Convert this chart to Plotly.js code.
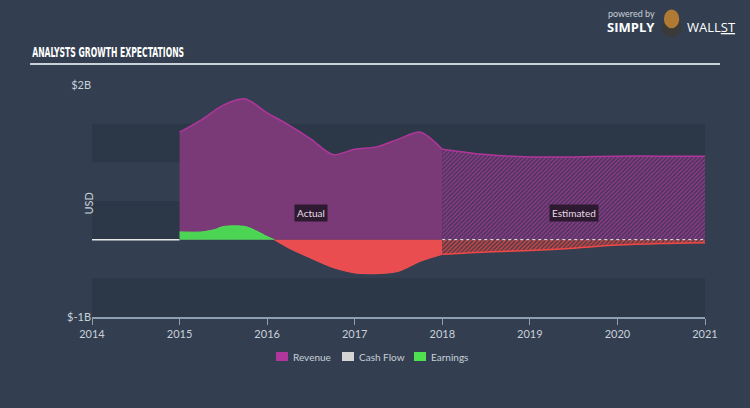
<!DOCTYPE html>
<html>
<head>
<meta charset="utf-8">
<script src="https://cdn.plot.ly/plotly-3.0.1.min.js"></script>
<style>
html,body{margin:0;padding:0;background:#333f50;}
#chart{width:750px;height:408px;}
</style>
</head>
<body>
<div id="chart"></div>
<script>
// ---- data (values in $B) ----
const revActualX = [2015, 2015.25, 2015.5, 2015.75, 2016, 2016.25, 2016.5, 2016.75, 2017, 2017.25, 2017.5, 2017.75, 2018];
const revActualY = [1.39, 1.55, 1.74, 1.82, 1.64, 1.48, 1.30, 1.10, 1.17, 1.20, 1.30, 1.39, 1.17];
const revEstX = [2018, 2018.5, 2019, 2019.5, 2020, 2020.5, 2021];
const revEstY = [1.17, 1.10, 1.07, 1.07, 1.08, 1.08, 1.08];

const earnActualX = [2015, 2015.25, 2015.4, 2015.5, 2015.75, 2015.9, 2016, 2016.08, 2016.25, 2016.5, 2016.75, 2017, 2017.25, 2017.5, 2017.75, 2018];
const earnActualY = [0.10, 0.10, 0.13, 0.17, 0.17, 0.10, 0.04, 0, -0.11, -0.24, -0.36, -0.43, -0.44, -0.41, -0.28, -0.19];
const earnEstX = [2018, 2018.5, 2019, 2019.5, 2020, 2020.5, 2021];
const earnEstY = [-0.19, -0.16, -0.14, -0.11, -0.07, -0.05, -0.04];

const cashPreX = [2014, 2015];
const cashPreY = [0, 0];
const cashEstX = [2018, 2021];
const cashEstY = [0, 0];

const xTicks = [2014, 2015, 2016, 2017, 2018, 2019, 2020, 2021];
const yTickVals = [-1, 2];
const yTickText = ['$-1B', '$2B'];
const bands = [[1, 1.5], [0, 0.5], [-1, -0.5]];
const legendNames = ['Revenue', 'Cash Flow', 'Earnings'];
const legendColors = ['#b0369b', '#d4d4d4', '#4fe04f'];

// split actual earnings by sign
const zi = earnActualY.indexOf(0);
const earnPosX = earnActualX.slice(0, zi + 1), earnPosY = earnActualY.slice(0, zi + 1);
const earnNegX = earnActualX.slice(zi), earnNegY = earnActualY.slice(zi);

const FONT = 'Lato, "Open Sans", sans-serif';

const traces = [
  {x: cashPreX, y: cashPreY, mode: 'lines', line: {color: '#e8e8e8', width: 1.5}, hoverinfo: 'skip'},
  {x: revActualX, y: revActualY, mode: 'lines', line: {color: '#b0369b', width: 1.5, shape: 'spline', smoothing: 0.8},
   fill: 'tozeroy', fillcolor: '#7a3a78', hoverinfo: 'skip'},
  {x: revEstX, y: revEstY, mode: 'lines', line: {color: '#b0369b', width: 1.5, shape: 'spline', smoothing: 0.8},
   fill: 'tozeroy', fillpattern: {shape: '/', fgcolor: '#8f3a88', bgcolor: '#45365a', size: 3, solidity: 0.5},
   hoverinfo: 'skip'},
  {x: earnPosX, y: earnPosY, mode: 'lines', line: {color: '#4fe04f', width: 1, shape: 'spline', smoothing: 0.8},
   fill: 'tozeroy', fillcolor: '#4cd454', hoverinfo: 'skip'},
  {x: earnNegX, y: earnNegY, mode: 'lines', line: {color: '#f25050', width: 1, shape: 'spline', smoothing: 0.8},
   fill: 'tozeroy', fillcolor: '#ea4d4f', hoverinfo: 'skip'},
  {x: earnEstX, y: earnEstY, mode: 'lines', line: {color: '#f04848', width: 1.5, shape: 'spline', smoothing: 0.8},
   fill: 'tozeroy', fillpattern: {shape: '/', fgcolor: '#c84646', bgcolor: '#4f3a48', size: 3, solidity: 0.5},
   hoverinfo: 'skip'},
  {x: cashEstX, y: cashEstY, mode: 'lines', line: {color: '#f0f0f0', width: 1, dash: 'dot'}, hoverinfo: 'skip'}
];

const shapes = bands.map(b => ({type: 'rect', xref: 'x', yref: 'y', x0: 2014, x1: 2021, y0: b[0], y1: b[1],
  fillcolor: '#2c3847', line: {width: 0}, layer: 'below'}));
shapes.push({type: 'line', xref: 'paper', yref: 'paper', x0: -0.101, x1: 1.0245, y0: 1.09, y1: 1.09,
  line: {color: '#c9d1da', width: 2}});
// logo mark
shapes.push({type: 'circle', xref: 'paper', yref: 'paper', x0: 0.929, x1: 0.962, y0: 1.207, y1: 1.29,
  fillcolor: '#3a3a3a', line: {width: 0}});
shapes.push({type: 'circle', xref: 'paper', yref: 'paper', x0: 0.933, x1: 0.958, y0: 1.245, y1: 1.325,
  fillcolor: '#b07a35', line: {width: 0}});

const annotations = [
  {xref: 'paper', yref: 'paper', x: -0.101, y: 1.142, xanchor: 'left', yanchor: 'middle', showarrow: false,
   text: '<b>ANALYSTS GROWTH EXPECTATIONS</b>',
   font: {family: '"DejaVu Sans Condensed", sans-serif', size: 14, color: '#ffffff'}},
  {xref: 'x', yref: 'y', x: 2016.5, y: 0.34, showarrow: false, text: 'Actual',
   bgcolor: '#2e1a30', borderpad: 2, font: {family: FONT, size: 10, color: '#e6dde6'}},
  {xref: 'x', yref: 'y', x: 2019.5, y: 0.34, showarrow: false, text: 'Estimated',
   bgcolor: '#2e1a30', borderpad: 2, font: {family: FONT, size: 10, color: '#e6dde6'}},
  {xref: 'paper', yref: 'paper', x: -0.02, y: 0.49, showarrow: false, textangle: -90, text: 'USD',
   font: {family: FONT, size: 11, color: '#c8d0da'}},
  {xref: 'paper', yref: 'paper', x: 0.839, y: 1.31, xanchor: 'left', yanchor: 'middle', showarrow: false,
   text: 'powered by', font: {family: FONT, size: 9, color: '#c8d0da'}},
  {xref: 'paper', yref: 'paper', x: 0.837, y: 1.252, xanchor: 'left', yanchor: 'middle', showarrow: false,
   text: '<b>SIMPLY</b>', font: {family: '"Open Sans", sans-serif', size: 13, color: '#ffffff'}},
  {xref: 'paper', yref: 'paper', x: 0.968, y: 1.252, xanchor: 'left', yanchor: 'middle', showarrow: false,
   text: 'WALL<u>ST</u>', font: {family: '"Open Sans", sans-serif', size: 13, color: '#ffffff'}}
];

// manual legend (pixel positions converted to paper coords)
const plotL = 92, plotW = 613, plotB = 317, plotH = 232;
const px = v => (v - plotL) / plotW;
const py = v => (plotB - v) / plotH;
const legendSquareX = [276, 342, 414];
legendNames.forEach((n, i) => {
  const x0 = legendSquareX[i];
  shapes.push({type: 'rect', xref: 'paper', yref: 'paper', x0: px(x0), x1: px(x0 + 12), y0: py(361), y1: py(352),
    fillcolor: legendColors[i], line: {width: 0}});
  annotations.push({xref: 'paper', yref: 'paper', x: px(x0 + 15), y: py(356.5), xanchor: 'left', yanchor: 'middle',
    showarrow: false, text: n, font: {family: FONT, size: 10, color: '#c8d0da'}});
});

const layout = {
  width: 750, height: 408,
  paper_bgcolor: '#333f50', plot_bgcolor: 'rgba(0,0,0,0)',
  margin: {l: 92, r: 45, t: 85, b: 91},
  font: {family: FONT, color: '#c8d0da', size: 11},
  xaxis: {range: [2014, 2021], tickvals: xTicks, showgrid: false, zeroline: false,
    showline: true, linecolor: '#8e9fb2', linewidth: 1.5, ticks: 'outside', ticklen: 6, tickcolor: '#8e9fb2',
    tickfont: {family: FONT, size: 11, color: '#c8d0da'}, fixedrange: true},
  yaxis: {range: [-1, 2], tickvals: yTickVals, ticktext: yTickText, showgrid: false, zeroline: false,
    showline: false, ticks: '', tickfont: {family: FONT, size: 11, color: '#c8d0da'}, fixedrange: true},
  showlegend: false,
  shapes: shapes,
  annotations: annotations
};

Plotly.newPlot('chart', traces, layout, {staticPlot: true, displayModeBar: false}).then(gd => {
  // condense the headline horizontally to mimic the narrow display face
  gd.querySelectorAll('text.annotation-text').forEach(t => {
    if (t.textContent.indexOf('ANALYSTS') === 0) {
      t.style.transformBox = 'fill-box';
      t.style.transformOrigin = 'left center';
      t.style.transform = 'scaleX(0.61)';
    }
  });
});
</script>
</body>
</html>
